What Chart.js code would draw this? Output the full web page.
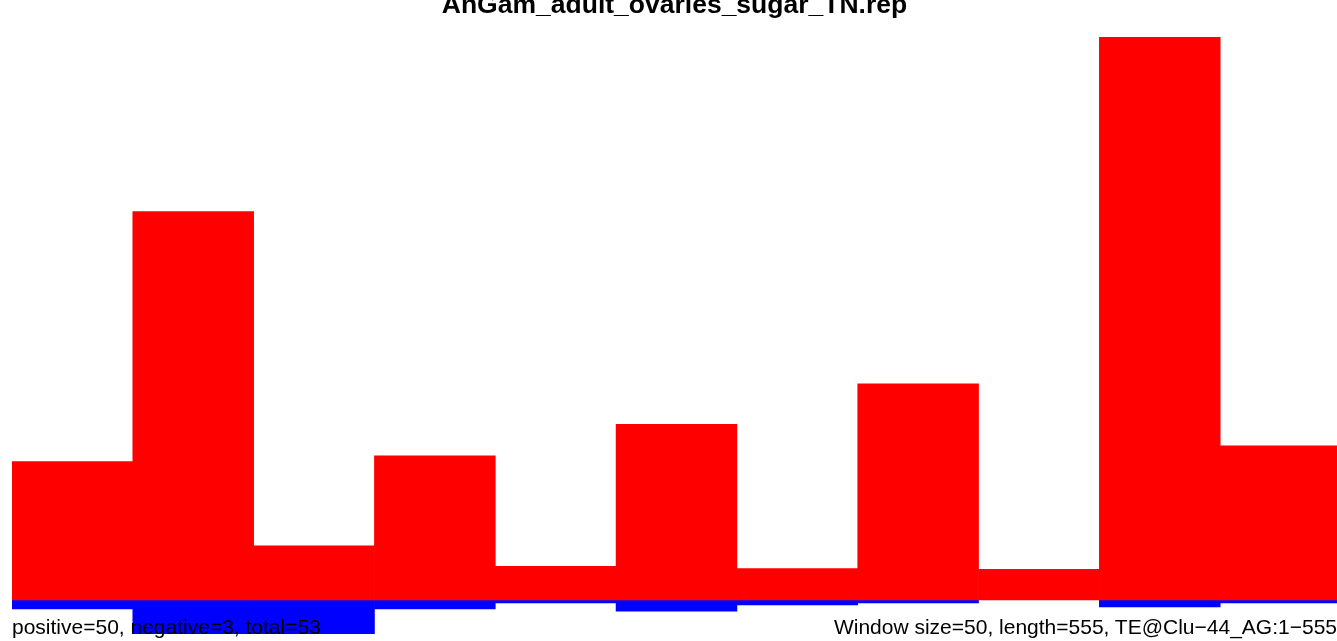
<!DOCTYPE html>
<html>
<head>
<meta charset="utf-8">
<script src="https://cdn.jsdelivr.net/npm/chart.js@4"></script>
<style>
  html, body { margin: 0; padding: 0; background: #fff; overflow: hidden; }
  #wrap { position: relative; width: 1337px; height: 641px; overflow: hidden; }
  #cv { position: absolute; left: 0; top: 0; }
  .txt { position: absolute; font-family: "Liberation Sans", Arial, sans-serif; white-space: nowrap; color: #000; }
  #titulo { left: 6px; width: 1337px; text-align: center; top: -9px; font-size: 26.5px; line-height: 26px; font-weight: bold; }
  #izq { left: 12px; top: 616px; font-size: 21px; line-height: 21px; }
  #der { right: 0; top: 616px; font-size: 21px; line-height: 21px; }
</style>
</head>
<body>
<div id="wrap">
  <canvas id="cv" width="1360" height="641" style="width:1360px;height:641px"></canvas>
  <div class="txt" id="titulo">AnGam_adult_ovaries_sugar_TN.rep</div>
  <div class="txt" id="izq">positive=50, negative=3, total=53</div>
  <div class="txt" id="der">Window size=50, length=555, TE@Clu−44_AG:1−555</div>
</div>
<script>
// Ventanas de 50 pb a lo largo de la secuencia (inicio de cada ventana)
const ventanas = ['1', '51', '101', '151', '201', '251', '301', '351', '401', '451', '501'];
// Cobertura de lecturas positivas por ventana
const positivos = [12.3, 34.5, 4.8, 12.8, 3.0, 15.6, 2.8, 19.2, 2.7, 50, 13.7];
// Cobertura de lecturas negativas por ventana (hacia abajo)
const negativos = [-0.8, -3, -3, -0.8, -0.27, -1.0, -0.44, -0.27, 0, -0.62, -0.27];

const ctx = document.getElementById('cv').getContext('2d');
new Chart(ctx, {
    type: 'bar',
    data: {
        labels: ventanas,
        datasets: [
            {
                label: 'positive',
                data: positivos,
                backgroundColor: '#FF0000',
                borderWidth: 0
            },
            {
                label: 'negative',
                data: negativos,
                backgroundColor: '#0000FF',
                borderWidth: 0
            }
        ]
    },
    options: {
        responsive: false,
        animation: false,
        layout: { padding: { left: 12, right: 19, top: 37, bottom: 0 } },
        datasets: { bar: { barPercentage: 1, categoryPercentage: 1 } },
        plugins: {
            legend: { display: false },
            title: { display: false },
            tooltip: { enabled: false }
        },
        scales: {
            x: { display: false, stacked: true },
            y: { display: false, stacked: true, min: -3.641, max: 50 }
        }
    }
});
</script>
</body>
</html>
